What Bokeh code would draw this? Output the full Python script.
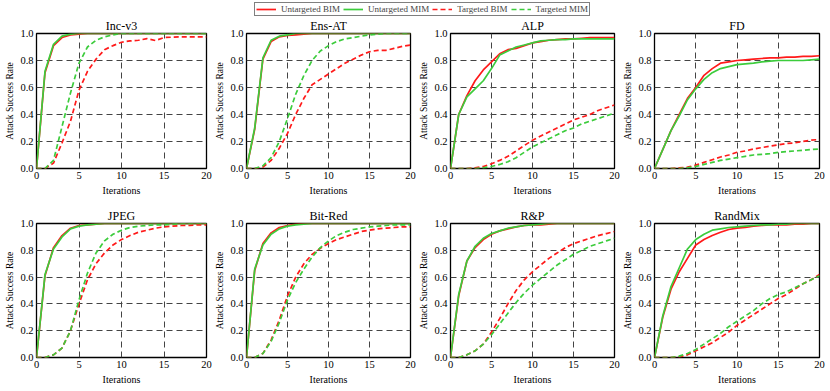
from bokeh.plotting import figure
from bokeh.models import Range1d, Legend, LegendItem, NumeralTickFormatter, FixedTicker
from bokeh.layouts import column, row
from bokeh.embed import file_html
from bokeh.resources import INLINE

iterations = list(range(21))
series_names = ["Untargeted BIM", "Untargeted MIM", "Targeted BIM", "Targeted MIM"]
panel_titles = ["Inc-v3", "Ens-AT", "ALP", "FD", "JPEG", "Bit-Red", "R&P", "RandMix"]
x_ticks = [0, 5, 10, 15, 20]
y_ticks = [0.0, 0.2, 0.4, 0.6, 0.8, 1.0]

incv3_ubim = [0, 0.71, 0.91, 0.97, 0.99, 0.995, 1, 1, 1, 1, 1, 1, 1, 1, 1, 1, 1, 1, 1, 1, 1]
incv3_umim = [0, 0.72, 0.92, 0.98, 0.995, 1, 1, 1, 1, 1, 1, 1, 1, 1, 1, 1, 1, 1, 1, 1, 1]
incv3_tbim = [0, 0.0, 0.04, 0.19, 0.35, 0.58, 0.72, 0.81, 0.88, 0.91, 0.935, 0.945, 0.95, 0.962, 0.948, 0.97, 0.973, 0.975, 0.975, 0.975, 0.975]
incv3_tmim = [0, 0.0, 0.06, 0.31, 0.56, 0.78, 0.9, 0.95, 0.975, 0.99, 1, 1, 1, 1, 1, 1, 1, 1, 1, 1, 1]

ensat_ubim = [0, 0.29, 0.81, 0.94, 0.975, 0.985, 0.99, 0.995, 1, 1, 1, 1, 1, 1, 1, 1, 1, 1, 1, 1, 1]
ensat_umim = [0, 0.30, 0.82, 0.95, 0.98, 0.99, 1, 1, 1, 1, 1, 1, 1, 1, 1, 1, 1, 1, 1, 1, 1]
ensat_tbim = [0, 0.0, 0.01, 0.06, 0.15, 0.26, 0.40, 0.52, 0.62, 0.66, 0.70, 0.74, 0.78, 0.81, 0.84, 0.865, 0.875, 0.875, 0.89, 0.905, 0.915]
ensat_tmim = [0, 0.0, 0.02, 0.08, 0.20, 0.37, 0.55, 0.69, 0.80, 0.87, 0.91, 0.94, 0.96, 0.97, 0.98, 0.99, 0.995, 1, 1, 1, 1]

alp_ubim = [0, 0.40, 0.54, 0.65, 0.73, 0.79, 0.85, 0.88, 0.89, 0.91, 0.93, 0.94, 0.95, 0.955, 0.96, 0.96, 0.965, 0.97, 0.97, 0.97, 0.97]
alp_umim = [0, 0.40, 0.53, 0.59, 0.65, 0.74, 0.84, 0.87, 0.90, 0.915, 0.93, 0.945, 0.95, 0.955, 0.955, 0.96, 0.96, 0.96, 0.96, 0.96, 0.96]
alp_tbim = [0, 0.0, 0.0, 0.005, 0.015, 0.035, 0.06, 0.09, 0.13, 0.17, 0.21, 0.24, 0.27, 0.30, 0.33, 0.36, 0.38, 0.40, 0.43, 0.45, 0.47]
alp_tmim = [0, 0.0, 0.0, 0.0, 0.005, 0.015, 0.03, 0.05, 0.08, 0.12, 0.16, 0.19, 0.22, 0.25, 0.28, 0.30, 0.33, 0.35, 0.37, 0.39, 0.41]

fd_ubim = [0, 0.14, 0.28, 0.40, 0.52, 0.60, 0.69, 0.74, 0.78, 0.79, 0.80, 0.805, 0.81, 0.815, 0.82, 0.82, 0.825, 0.825, 0.83, 0.83, 0.835]
fd_umim = [0, 0.14, 0.28, 0.39, 0.51, 0.59, 0.66, 0.71, 0.74, 0.755, 0.77, 0.775, 0.78, 0.79, 0.795, 0.80, 0.80, 0.80, 0.80, 0.805, 0.81]
fd_tbim = [0, 0.0, 0.0, 0.005, 0.01, 0.025, 0.045, 0.065, 0.085, 0.10, 0.12, 0.13, 0.145, 0.155, 0.165, 0.175, 0.185, 0.19, 0.20, 0.21, 0.215]
fd_tmim = [0, 0.0, 0.0, 0.0, 0.005, 0.015, 0.03, 0.045, 0.06, 0.07, 0.08, 0.09, 0.10, 0.105, 0.11, 0.12, 0.125, 0.13, 0.135, 0.14, 0.145]

jpeg_ubim = [0, 0.61, 0.82, 0.91, 0.965, 0.985, 0.99, 0.995, 1, 1, 1, 1, 1, 1, 1, 1, 1, 1, 1, 1, 1]
jpeg_umim = [0, 0.62, 0.81, 0.90, 0.96, 0.98, 0.99, 0.995, 1, 1, 1, 1, 1, 1, 1, 1, 1, 1, 1, 1, 1]
jpeg_tbim = [0, 0.0, 0.02, 0.07, 0.20, 0.40, 0.58, 0.70, 0.78, 0.84, 0.88, 0.91, 0.935, 0.95, 0.965, 0.975, 0.98, 0.985, 0.985, 0.99, 0.99]
jpeg_tmim = [0, 0.0, 0.02, 0.07, 0.20, 0.43, 0.63, 0.78, 0.87, 0.92, 0.95, 0.97, 0.98, 0.985, 0.99, 0.99, 0.995, 1, 1, 1, 1]

bitred_ubim = [0, 0.65, 0.85, 0.93, 0.97, 0.985, 0.995, 1, 1, 1, 1, 1, 1, 1, 1, 1, 1, 1, 1, 1, 1]
bitred_umim = [0, 0.66, 0.84, 0.92, 0.96, 0.98, 0.99, 0.995, 1, 1, 1, 1, 1, 1, 1, 1, 1, 1, 1, 1, 1]
bitred_tbim = [0, 0.0, 0.03, 0.13, 0.28, 0.46, 0.60, 0.70, 0.77, 0.815, 0.85, 0.88, 0.90, 0.92, 0.94, 0.95, 0.96, 0.965, 0.97, 0.975, 0.975]
bitred_tmim = [0, 0.0, 0.03, 0.12, 0.26, 0.43, 0.56, 0.66, 0.75, 0.82, 0.87, 0.91, 0.935, 0.955, 0.965, 0.975, 0.98, 0.985, 0.99, 0.99, 0.99]

rp_ubim = [0, 0.46, 0.72, 0.82, 0.88, 0.92, 0.945, 0.96, 0.975, 0.985, 0.99, 0.99, 0.995, 1, 1, 1, 1, 1, 1, 1, 1]
rp_umim = [0, 0.47, 0.72, 0.83, 0.89, 0.925, 0.945, 0.965, 0.975, 0.985, 0.99, 0.995, 1, 1, 1, 1, 1, 1, 1, 1, 1]
rp_tbim = [0, 0.0, 0.02, 0.05, 0.10, 0.19, 0.29, 0.40, 0.50, 0.58, 0.64, 0.69, 0.74, 0.78, 0.82, 0.85, 0.87, 0.89, 0.91, 0.925, 0.94]
rp_tmim = [0, 0.0, 0.02, 0.05, 0.10, 0.17, 0.25, 0.33, 0.41, 0.48, 0.54, 0.59, 0.64, 0.69, 0.73, 0.77, 0.80, 0.83, 0.85, 0.87, 0.89]

randmix_ubim = [0, 0.30, 0.51, 0.64, 0.74, 0.84, 0.88, 0.91, 0.935, 0.955, 0.965, 0.97, 0.98, 0.985, 0.99, 0.99, 0.99, 0.995, 0.995, 1, 1]
randmix_umim = [0, 0.31, 0.53, 0.67, 0.81, 0.88, 0.92, 0.95, 0.96, 0.97, 0.975, 0.98, 0.985, 0.99, 0.99, 0.995, 0.995, 1, 1, 1, 1]
randmix_tbim = [0, 0.0, 0.0, 0.005, 0.02, 0.05, 0.08, 0.11, 0.15, 0.19, 0.24, 0.28, 0.32, 0.36, 0.40, 0.44, 0.47, 0.51, 0.55, 0.58, 0.62]
randmix_tmim = [0, 0.0, 0.0, 0.01, 0.03, 0.06, 0.10, 0.14, 0.18, 0.23, 0.27, 0.31, 0.35, 0.40, 0.44, 0.47, 0.49, 0.52, 0.55, 0.58, 0.61]

panel_series = [
    [incv3_ubim, incv3_umim, incv3_tbim, incv3_tmim],
    [ensat_ubim, ensat_umim, ensat_tbim, ensat_tmim],
    [alp_ubim, alp_umim, alp_tbim, alp_tmim],
    [fd_ubim, fd_umim, fd_tbim, fd_tmim],
    [jpeg_ubim, jpeg_umim, jpeg_tbim, jpeg_tmim],
    [bitred_ubim, bitred_umim, bitred_tbim, bitred_tmim],
    [rp_ubim, rp_umim, rp_tbim, rp_tmim],
    [randmix_ubim, randmix_umim, randmix_tbim, randmix_tmim],
]

FONT = "Liberation Serif"
RED = "#ff1a1a"
GREEN = "#3ccc3c"
styles = [
    dict(color=RED, dash="solid"),
    dict(color=GREEN, dash="solid"),
    dict(color=RED, dash="5 3"),
    dict(color=GREEN, dash="5 3"),
]


def make_panel(title, series, width, height, left, right, top, bottom):
    p = figure(width=width, height=height, x_range=Range1d(0, 20), y_range=Range1d(0, 1),
               output_backend="svg", toolbar_location=None,
               min_border_left=left, min_border_right=right,
               min_border_top=top, min_border_bottom=bottom)
    p.title.text = title
    p.title.align = "center"
    p.title.text_font = FONT
    p.title.text_font_size = "12px"
    p.title.text_font_style = "normal"
    p.title.text_color = "black"
    p.title.standoff = 1
    p.title.offset = 0
    p.outline_line_color = "black"
    p.outline_line_width = 1.3
    p.background_fill_color = "white"
    for g in (p.xgrid, p.ygrid):
        g.grid_line_color = "#444444"
        g.grid_line_dash = "6 4"
        g.grid_line_width = 1
    p.xaxis.ticker = FixedTicker(ticks=x_ticks)
    p.yaxis.ticker = FixedTicker(ticks=y_ticks)
    p.yaxis.formatter = NumeralTickFormatter(format="0.0")
    for ax in (p.xaxis, p.yaxis):
        ax.axis_line_color = None
        ax.major_tick_line_color = None
        ax.minor_tick_line_color = None
        ax.major_tick_in = 0
        ax.major_tick_out = 0
        ax.major_label_text_font = FONT
        ax.major_label_text_font_size = "10.5px"
        ax.major_label_text_color = "black"
        ax.axis_label_text_font = FONT
        ax.axis_label_text_font_style = "normal"
        ax.axis_label_text_color = "black"
        ax.major_label_standoff = 3
        ax.axis_label_standoff = 3
    p.xaxis.axis_label = "Iterations"
    p.xaxis.axis_label_text_font_size = "10px"
    p.yaxis.axis_label = "Attack Success Rate"
    p.yaxis.axis_label_text_font_size = "9.5px"
    p.yaxis.axis_label_standoff = 2
    for vals, st in zip(series, styles):
        p.line(iterations, vals, line_color=st["color"], line_dash=st["dash"], line_width=1.7)
    return p


# legend strip (proxy lines lie outside the visible range; only their legend glyphs show)
lf = figure(width=829, height=16, x_range=Range1d(0, 1), y_range=Range1d(0, 1),
            output_backend="svg", toolbar_location=None, min_border=0)
lf.axis.visible = False
lf.grid.visible = False
lf.outline_line_color = None
items = []
for name, st in zip(series_names, styles):
    r = lf.line([-5, -4], [-5, -4], line_color=st["color"], line_dash=st["dash"], line_width=1.7)
    items.append(LegendItem(label=name, renderers=[r]))
legend = Legend(items=items, orientation="horizontal", location=(254, 0),
                label_text_font=FONT, label_text_font_size="9px",
                glyph_width=20, glyph_height=8, label_height=8, label_standoff=5,
                spacing=3, padding=1, margin=0, border_line_color="black",
                border_line_width=1.2, background_fill_alpha=1)
lf.add_layout(legend, "center")

widths = [212, 204, 204, 209]
lefts = [36, 28, 28, 29]
rights = [6, 6, 6, 10]
top_row = [make_panel(panel_titles[i], panel_series[i], widths[i], 182, lefts[i], rights[i], 14, 30)
           for i in range(4)]
bottom_row = [make_panel(panel_titles[i + 4], panel_series[i + 4], widths[i], 191, lefts[i], rights[i], 25, 32)
              for i in range(4)]

layout = column(lf, row(*top_row), row(*bottom_row))

with open("out.html", "w") as f:
    f.write(file_html(layout, INLINE))
